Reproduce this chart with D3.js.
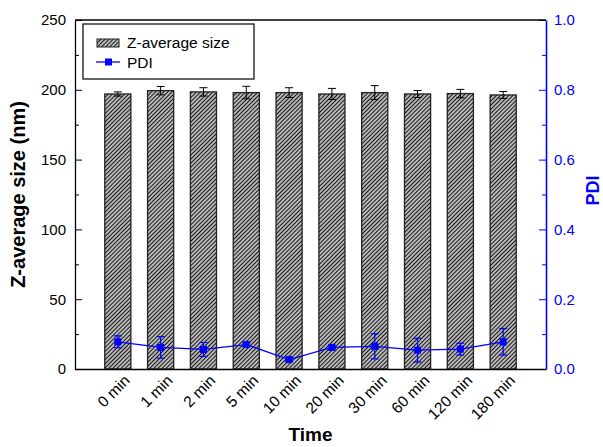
<!DOCTYPE html>
<html>
<head>
  <style>
    html, body { margin: 0; padding: 0; background: #fff; }
    svg { font-family: "Liberation Sans", Arial, sans-serif; }
  </style>
</head>
<body>
  <svg id="chart" width="603" height="447"></svg>
  <script src="https://d3js.org/d3.v7.min.js"></script>
  <script>
    // data
    const times = ["0 min", "1 min", "2 min", "5 min", "10 min", "20 min", "30 min", "60 min", "120 min", "180 min"];
    const zSize = [197, 199.4, 198.5, 198, 198, 197, 198, 197, 197.3, 196.3];
    const zErr  = [1.5, 3, 3, 4.5, 3.5, 4, 5, 2.5, 3, 2.5];
    const pdi    = [0.078, 0.062, 0.056, 0.070, 0.027, 0.062, 0.065, 0.054, 0.057, 0.078];
    const pdiErr = [0.017, 0.031, 0.020, 0.005, 0.005, 0.004, 0.036, 0.034, 0.017, 0.038];
    const leftTicks = [0, 50, 100, 150, 200, 250];
    const rightTicks = [0, 0.2, 0.4, 0.6, 0.8, 1.0];

    const margin = { top: 20, right: 57, bottom: 78, left: 75 };
    const W = 603, H = 447;
    const width = W - margin.left - margin.right;
    const height = H - margin.top - margin.bottom;

    const svg = d3.select("#chart");

    // hatch pattern
    const defs = svg.append("defs");
    const pat = defs.append("pattern")
      .attr("id", "hatch")
      .attr("patternUnits", "userSpaceOnUse")
      .attr("width", 2.9).attr("height", 2.9)
      .attr("patternTransform", "rotate(45)");
    pat.append("rect").attr("width", 2.9).attr("height", 2.9).attr("fill", "#b8b8b8");
    pat.append("line").attr("x1", 0).attr("y1", 0).attr("x2", 0).attr("y2", 2.9)
      .attr("stroke", "#111").attr("stroke-width", 1.9);

    const g = svg.append("g").attr("transform", `translate(${margin.left},${margin.top})`);

    const x = d3.scaleLinear().domain([0, times.length + 1]).range([0, width]);
    const yL = d3.scaleLinear().domain([0, 250]).range([height, 0]);
    const yR = d3.scaleLinear().domain([0, 1]).range([height, 0]);
    const barW = (x(1) - x(0)) * 0.61;

    // bars
    g.selectAll(".bar")
      .data(zSize)
      .enter()
      .append("rect")
      .attr("class", "bar")
      .attr("x", (d, i) => x(i + 1) - barW / 2)
      .attr("y", d => yL(d))
      .attr("width", barW)
      .attr("height", d => height - yL(d))
      .attr("fill", "url(#hatch)")
      .attr("stroke", "#222")
      .attr("stroke-width", 1.3);

    // bar error bars
    const capW = 4;
    const zE = g.append("g").attr("stroke", "#000").attr("stroke-width", 1);
    zSize.forEach((v, i) => {
      const cx = x(i + 1);
      zE.append("line").attr("x1", cx).attr("x2", cx).attr("y1", yL(v - zErr[i])).attr("y2", yL(v + zErr[i]));
      zE.append("line").attr("x1", cx - capW).attr("x2", cx + capW).attr("y1", yL(v + zErr[i])).attr("y2", yL(v + zErr[i]));
      zE.append("line").attr("x1", cx - capW).attr("x2", cx + capW).attr("y1", yL(v - zErr[i])).attr("y2", yL(v - zErr[i]));
    });

    // PDI line
    const line = d3.line().x((d, i) => x(i + 1)).y(d => yR(d));
    g.append("path")
      .datum(pdi)
      .attr("d", line)
      .attr("fill", "none")
      .attr("stroke", "#0000ff")
      .attr("stroke-width", 1.3);

    const pE = g.append("g").attr("stroke", "#0000ff").attr("stroke-width", 1.2);
    pdi.forEach((v, i) => {
      const cx = x(i + 1);
      pE.append("line").attr("x1", cx).attr("x2", cx).attr("y1", yR(v - pdiErr[i])).attr("y2", yR(v + pdiErr[i]));
      pE.append("line").attr("x1", cx - capW).attr("x2", cx + capW).attr("y1", yR(v + pdiErr[i])).attr("y2", yR(v + pdiErr[i]));
      pE.append("line").attr("x1", cx - capW).attr("x2", cx + capW).attr("y1", yR(v - pdiErr[i])).attr("y2", yR(v - pdiErr[i]));
    });

    g.selectAll(".pt")
      .data(pdi)
      .enter()
      .append("rect")
      .attr("class", "pt")
      .attr("x", (d, i) => x(i + 1) - 3.5)
      .attr("y", d => yR(d) - 3.5)
      .attr("width", 7).attr("height", 7)
      .attr("fill", "#0000ff");

    // left axis
    const axL = g.append("g")
      .call(d3.axisLeft(yL).tickValues(leftTicks).tickSizeInner(-7).tickSizeOuter(0).tickPadding(9));
    axL.select(".domain").attr("stroke", "#000").attr("stroke-width", 1.3);
    axL.selectAll("text").attr("font-size", 15).attr("fill", "#000");
    g.append("g")
      .call(d3.axisLeft(yL).tickValues([25, 75, 125, 175, 225]).tickSizeInner(-4).tickSizeOuter(0).tickFormat(""))
      .select(".domain").remove();

    // right axis
    const axR = g.append("g").attr("transform", `translate(${width},0)`)
      .call(d3.axisRight(yR).tickValues(rightTicks).tickSizeInner(-7).tickSizeOuter(0).tickPadding(8).tickFormat(d3.format(".1f")));
    axR.select(".domain").attr("stroke", "#0000ff").attr("stroke-width", 1.6);
    axR.selectAll("line").attr("stroke", "#0000ff");
    axR.selectAll("text").attr("font-size", 15).attr("fill", "#0000ff");
    const axR2 = g.append("g").attr("transform", `translate(${width},0)`)
      .call(d3.axisRight(yR).tickValues([0.1, 0.3, 0.5, 0.7, 0.9]).tickSizeInner(-4).tickSizeOuter(0).tickFormat(""));
    axR2.select(".domain").remove();
    axR2.selectAll("line").attr("stroke", "#0000ff");

    // bottom axis
    const axB = g.append("g").attr("transform", `translate(0,${height})`)
      .call(d3.axisBottom(x).tickValues(d3.range(1, times.length + 1)).tickSize(0).tickSizeOuter(0).tickPadding(8)
        .tickFormat(d => times[d - 1]));
    axB.select(".domain").attr("stroke", "#000").attr("stroke-width", 1.3);
    axB.selectAll("text")
      .attr("font-size", 15.5)
      .attr("fill", "#000")
      .attr("text-anchor", "end")
      .attr("dy", "0.35em")
      .attr("transform", "translate(3,3) rotate(-45)");

    // top frame
    g.append("line").attr("x1", 0).attr("x2", width).attr("y1", 0).attr("y2", 0)
      .attr("stroke", "#000").attr("stroke-width", 1.3);

    // axis titles
    svg.append("text")
      .attr("transform", `translate(25,${margin.top + height / 2}) rotate(-90)`)
      .attr("text-anchor", "middle")
      .attr("font-size", 20).attr("font-weight", "bold")
      .text("Z-average size (nm)");
    svg.append("text")
      .attr("transform", `translate(599,${margin.top + height / 2 - 4}) rotate(-90)`)
      .attr("text-anchor", "middle")
      .attr("font-size", 18).attr("font-weight", "bold")
      .attr("fill", "#0000ff")
      .text("PDI");
    svg.append("text")
      .attr("x", margin.left + width / 2)
      .attr("y", 441)
      .attr("text-anchor", "middle")
      .attr("font-size", 19).attr("font-weight", "bold")
      .text("Time");

    // legend
    const lg = svg.append("g");
    lg.append("rect").attr("x", 83).attr("y", 24).attr("width", 171).attr("height", 55)
      .attr("fill", "#fff").attr("stroke", "#000").attr("stroke-width", 1.2);
    lg.append("rect").attr("x", 97).attr("y", 39).attr("width", 22).attr("height", 8)
      .attr("fill", "url(#hatch)").attr("stroke", "#222").attr("stroke-width", 1);
    lg.append("text").attr("x", 127).attr("y", 48).attr("font-size", 15.5).text("Z-average size");
    lg.append("line").attr("x1", 96).attr("x2", 120).attr("y1", 62).attr("y2", 62)
      .attr("stroke", "#0000ff").attr("stroke-width", 1.3);
    lg.append("rect").attr("x", 105).attr("y", 58.5).attr("width", 7).attr("height", 7).attr("fill", "#0000ff");
    lg.append("text").attr("x", 127).attr("y", 67.5).attr("font-size", 15.5).text("PDI");
  </script>
</body>
</html>
